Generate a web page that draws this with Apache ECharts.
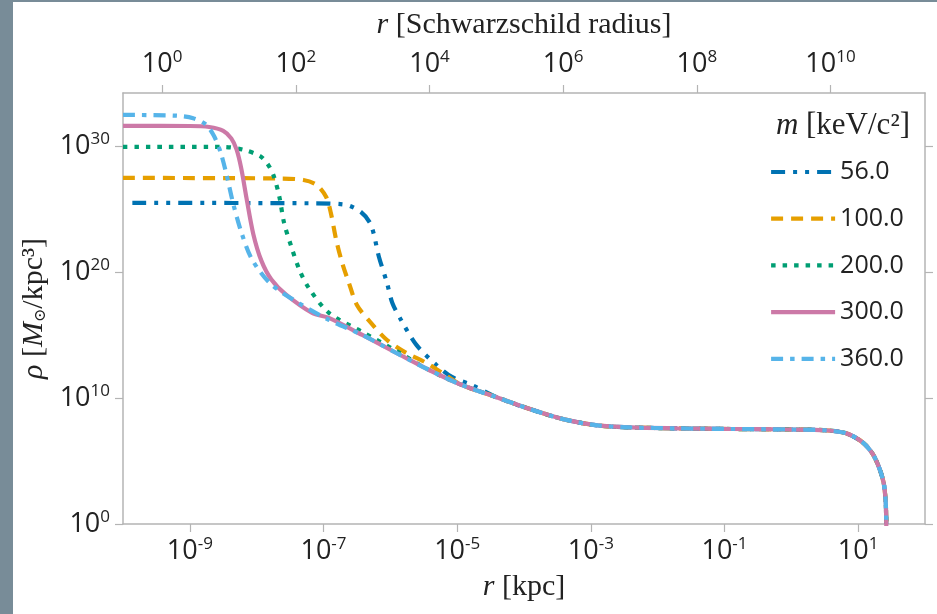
<!DOCTYPE html>
<html>
<head>
<meta charset="utf-8">
<script src="https://cdn.jsdelivr.net/npm/echarts@6/dist/echarts.min.js"></script>
<style>
html, body { margin: 0; padding: 0; background: #fff; }
#chart { width: 937px; height: 614px; }
</style>
</head>
<body>
<div id="chart"></div>
<script>
// all values are log10: x = log10(r / kpc), y = log10(rho / (Msun/kpc^3))
var masses = ['56.0', '100.0', '200.0', '300.0', '360.0'];
var colors = ['#0072b2', '#e69f00', '#009e73', '#cc79a7', '#56b4e9'];

// inner cores, one per particle mass
var core56 = [[-9.86, 25.48], [-7.2, 25.45], [-6.69, 25.35], [-6.44, 24.76], [-6.29, 23.73], [-6.17, 21.19],
    [-6.05, 19.13], [-5.97, 17.54], [-5.84, 16.19], [-5.61, 14.21], [-5.31, 12.62], [-5.08, 11.67], [-4.78, 11.03]];
var core100 = [[-10, 27.46], [-7.7, 27.42], [-7.3, 27.3], [-7.1, 26.9], [-6.96, 25.95], [-6.89, 24.68],
    [-6.81, 22.54], [-6.72, 20.71], [-6.62, 19.13], [-6.5, 17.38], [-6.29, 15.95], [-6.05, 14.6], [-5.76, 13.57],
    [-5.46, 12.78], [-5.2, 11.9]];
var core200 = [[-10, 29.92], [-8.5, 29.92], [-8.2, 29.7], [-7.95, 29.2], [-7.84, 28.6], [-7.75, 27.7],
    [-7.66, 25.95], [-7.59, 23.9], [-7.48, 21.98], [-7.36, 20.16], [-7.22, 18.73], [-6.92, 16.75], [-6.42, 15.24],
    [-5.91, 13.73]];
var core300 = [[-10, 31.59], [-9.0, 31.58], [-8.71, 31.5], [-8.5, 31.2], [-8.38, 30.6], [-8.3, 29.7],
    [-8.23, 28.2], [-8.15, 25.8], [-8.05, 23.0], [-7.93, 20.9], [-7.78, 19.4], [-7.56, 18.2], [-7.17, 16.75]];
var core360 = [[-10, 32.46], [-9.2, 32.4], [-8.95, 32.2], [-8.76, 31.7], [-8.64, 30.8], [-8.54, 29.5],
    [-8.45, 27.7], [-8.35, 25.4], [-8.22, 23.0], [-8.07, 21.0], [-7.8, 19.1], [-7.36, 17.5], [-6.92, 16.2]];

// shared outer halo, all masses fall onto it
var halo = [[-7.17, 16.75], [-6.92, 16.35], [-6.42, 15.0], [-5.91, 13.57], [-5.42, 12.22], [-4.93, 11.03],
    [-4.42, 10.08], [-3.9, 9.1], [-3.4, 8.3], [-2.9, 7.82], [-2.4, 7.66], [-1.7, 7.59],
    [-0.9, 7.54], [0, 7.5], [0.5, 7.44], [0.82, 7.2], [1.06, 6.51], [1.21, 5.63], [1.31, 4.52], [1.38, 3.3],
    [1.41, 1.9], [1.42, 0.3], [1.425, -3]];

var cores = [core56, core100, core200, core300, core360];
var dashes = [[14, 8, 4, 8, 4, 8], [12, 8], [4.5, 7], 'solid', [12, 7, 4.5, 7]];

var xTicks = [-9, -7, -5, -3, -1, 1];
var topTicks = [0, 2, 4, 6, 8, 10];
var yTicks = [0, 10, 20, 30];

var axisColor = '#b4b4b4';
var sansFont = 'Open Sans';
var serifFont = 'Liberation Serif';

function powLabel(v) {
    var e = Math.round(v);
    return '{b|10}{s|' + (e < 0 ? '-' + (-e) : e) + '}';
}

var powRich = {
    b: { fontSize: 27, fontFamily: sansFont, color: '#222', lineHeight: 30 },
    s: { fontSize: 17, fontFamily: sansFont, color: '#222', lineHeight: 17, verticalAlign: 'top' }
};

var titleStyle = {
    fontFamily: serifFont, fontSize: 30, color: '#222',
    rich: { i: { fontFamily: serifFont, fontSize: 30, fontStyle: 'italic', color: '#222' } }
};

var myChart = echarts.init(document.getElementById('chart'));

var series = cores.map(function (core, i) {
    var last = core[core.length - 1][0];
    var data = core.concat(halo.filter(function (p) { return p[0] > last; }));
    return {
        name: masses[i],
        type: 'line',
        data: data,
        showSymbol: false,
        symbol: 'none',
        smooth: 0.3,
        clip: true,
        lineStyle: { color: colors[i], width: 4.2, type: dashes[i], cap: 'butt' },
        itemStyle: { color: colors[i] }
    };
});

myChart.setOption({
    animation: false,
    backgroundColor: '#fff',
    graphic: [
        { type: 'rect', left: 0, top: 0, shape: { width: 13, height: 614 }, style: { fill: '#788c98' } },
        { type: 'rect', left: 0, top: 0, shape: { width: 937, height: 2 }, style: { fill: '#788c98' } }
    ],
    title: {
        text: '{i|m} [keV/c²]',
        right: 27,
        top: 110,
        padding: 0,
        textStyle: {
            fontFamily: serifFont, fontSize: 31, fontWeight: 'normal', color: '#222',
            rich: { i: { fontFamily: serifFont, fontSize: 31, fontStyle: 'italic', color: '#222' } }
        }
    },
    legend: {
        orient: 'vertical',
        left: 769,
        top: 157,
        padding: 0,
        itemWidth: 64,
        itemHeight: 14,
        itemGap: 16.7,
        data: masses,
        itemStyle: { opacity: 0 },
        lineStyle: { width: 4.2, cap: 'butt' },
        textStyle: { fontFamily: sansFont, fontSize: 25, color: '#222', lineHeight: 30 }
    },
    grid: { left: 123, right: 12, top: 93, bottom: 90, containLabel: false, outerBoundsMode: 'none' },
    xAxis: [{
        type: 'value',
        position: 'bottom',
        min: -10,
        max: 2,
        name: '{i|r} [kpc]',
        nameLocation: 'middle',
        nameGap: 48,
        nameTextStyle: titleStyle,
        axisLine: { show: true, onZero: false, lineStyle: { color: axisColor, width: 1.5 } },
        axisTick: { show: true, length: 8, customValues: xTicks, lineStyle: { color: axisColor, width: 1.2 } },
        axisLabel: { customValues: xTicks, margin: 12, formatter: powLabel, rich: powRich },
        splitLine: { show: false }
    }, {
        type: 'value',
        position: 'top',
        min: -0.586,
        max: 11.414,
        name: '{i|r} [Schwarzschild radius]',
        nameLocation: 'middle',
        nameGap: 53,
        nameTextStyle: titleStyle,
        axisLine: { show: true, onZero: false, lineStyle: { color: axisColor, width: 1.5 } },
        axisTick: { show: true, length: 8, customValues: topTicks, lineStyle: { color: axisColor, width: 1.2 } },
        axisLabel: { customValues: topTicks, margin: 14, formatter: powLabel, rich: powRich },
        splitLine: { show: false }
    }],
    yAxis: [{
        type: 'value',
        position: 'left',
        min: 0,
        max: 34.2,
        name: '{i|ρ} [{i|M}{o|⊙}/kpc³]',
        nameLocation: 'middle',
        nameGap: 73,
        nameRotate: 90,
        nameTextStyle: {
            fontFamily: serifFont, fontSize: 30, color: '#222',
            rich: {
                i: { fontFamily: serifFont, fontSize: 30, fontStyle: 'italic', color: '#222' },
                o: { fontFamily: 'DejaVu Serif', fontSize: 16, color: '#222', verticalAlign: 'bottom', lineHeight: 24 }
            }
        },
        axisLine: { show: true, onZero: false, lineStyle: { color: axisColor, width: 1.5 } },
        axisTick: { show: true, length: 8, customValues: yTicks, lineStyle: { color: axisColor, width: 1.2 } },
        axisLabel: { customValues: yTicks, margin: 13, formatter: powLabel, rich: powRich },
        splitLine: { show: false }
    }, {
        type: 'value',
        position: 'right',
        min: 0,
        max: 34.2,
        axisLine: { show: true, onZero: false, lineStyle: { color: axisColor, width: 1.5 } },
        axisTick: { show: true, length: 8, customValues: yTicks, lineStyle: { color: axisColor, width: 1.2 } },
        axisLabel: { show: false },
        splitLine: { show: false }
    }],
    series: series
});
</script>
</body>
</html>
